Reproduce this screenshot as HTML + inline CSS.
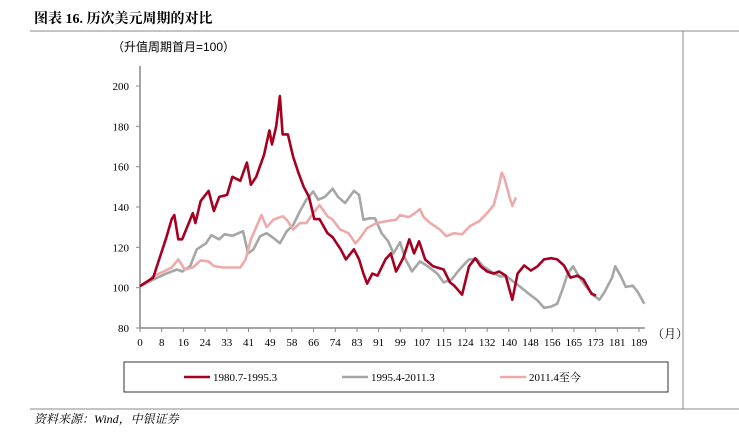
<!DOCTYPE html>
<html><head><meta charset="utf-8"><style>
body{margin:0;width:739px;height:429px;background:#fff;overflow:hidden;font-family:"Liberation Serif","Noto Serif CJK SC",serif;}
</style></head><body>
<svg width="739" height="429" xmlns="http://www.w3.org/2000/svg">
<text x="34" y="23" font-size="14" font-weight="bold" fill="#000" font-family="Liberation Serif,Noto Serif CJK SC,serif">图表 16. 历次美元周期的对比</text>
<line x1="30" y1="31" x2="739" y2="31" stroke="#888" stroke-width="1"/>
<line x1="683" y1="31" x2="683" y2="409" stroke="#888" stroke-width="1"/>
<line x1="30" y1="409" x2="739" y2="409" stroke="#888" stroke-width="1"/>
<text x="112" y="51" font-size="12" font-family="Liberation Sans,Noto Sans CJK SC,sans-serif">（升值周期首月=100）</text>
<text x="652" y="338" font-size="12">（月）</text>
<g id="axes"></g>
<g id="series"></g>
<rect x="124" y="362" width="544" height="30" fill="none" stroke="#333" stroke-width="1"/>
<g id="legend"></g>
<text x="34" y="423" font-size="12" font-style="italic">资料来源：Wind，中银证券</text>
</svg>
<script>
const xTickLabels=[0,8,16,24,33,41,49,58,66,74,83,91,99,107,115,124,132,140,148,156,165,173,181,189];
const yTicks=[80,100,120,140,160,180,200];
const seriesNames=["1980.7-1995.3","1995.4-2011.3","2011.4至今"];
const redM=[0,5,7,10,12,13,14.5,16,20,21,23,26,28,30,33,35,38,40.5,42,44,47,49,50,51.6,53,54,56,58,60,62,64,66,68,71,73,76,78,81,83,84.6,86,88,90,93,95,97,99.7,102,103.8,105.7,108,111,115,117.4,119,122,124.6,127,129,131.5,134,136,138.5,141,143,145.5,148,150.6,153,155.7,158,160.6,163,165.8,168,171,172.7];
const redV=[100.8,105,113,125,134,136,124,124,137,132,143,148,138,145,146,155,153,162,151,155,166,178,171,180,195,176,176,165,157,150,145,134,134,127,125,119,114,119,114,107,102,107,106,114,117,108,114.7,124,117,123,114,110.6,109,102.6,101,96.5,110.6,114.6,110.6,108,107,108,106,94,107,111,108.5,110.6,114,114.6,114,111,105,106,104,97,96];
const grayM=[0,5,10,14,16,19,21.5,25,27,30,32,35,39,41,43,45.5,48,50.5,53,55.6,58,60.6,63,65.6,67.5,70,73,75,77.7,81,83,84.6,87,89,91.5,94,96,98.5,100.4,103,106,109,112.6,115,118,121,124.6,127.7,130,133,136.3,138.9,141.4,144,147,150.3,153,155.7,158,160,162,164,166.5,169,172,174,176,178.8,180,182,184,186.6,188.5,191];
const grayV=[100.8,104,107,109,108,110.7,119,122,126,124,126.5,125.7,128,117,119,125.5,127,124.7,122,128,131,138,143.6,147.7,143.6,145,149,145,142,148,146,133.7,134.4,134.4,127,123,117,122.6,114.5,108,113,110.6,107,102.6,104,109,114,114,110.6,108,105.6,105.6,103,100.5,97.2,94,90,90.6,92,99,107,110.6,105,100.4,96,94,98,105,110.6,106,100.4,101,98,92];
const pinkM=[0,2.5,5,9,12,14.5,17,20,23,26,28,31.5,35,38,40,42,44,46,48,50.5,54,55.6,58,60.6,63,65.6,68,71,73,75.8,79,81.6,83,86,89.6,93.4,97,98.5,102,104.8,106,107.4,110,113.6,116,118.9,122,125,128.5,131.5,134,136,137,138,140,141,142.4];
const pinkV=[100.8,102.4,105.7,108,110,114,109,110,113.5,113,110.7,110,110,110,114,124,130,136,130,133.7,135.4,133.7,128.8,132,132,137,141,135.4,133.7,128.8,127,122,124,129.6,132,133,133.7,136,135,137.6,139,135,132,128.8,125.5,127,126.4,130.6,133,137,141,151,157,154.6,144.7,140.6,144.7];
const colors=["#a50021","#a6a6a6","#eeaaaa"];
const NS="http://www.w3.org/2000/svg";
const x0=140,x1=639,mMax=189,yBase=328,yTop=86;
const xs=m=>x0+m*(x1-x0)/mMax;
const ys=v=>yBase-(v-80)*(yBase-yTop)/120;
function mk(t,a,p){const e=document.createElementNS(NS,t);for(const k in a)e.setAttribute(k,a[k]);p.appendChild(e);return e;}
const ax=document.getElementById('axes');
let l=mk('line',{x1:x0,y1:yBase,x2:x0,y2:yTop-20,stroke:'#888','stroke-width':1.5},ax);


l=mk('line',{x1:x0,y1:yBase,x2:645,y2:yBase,stroke:'#888','stroke-width':1.5},ax);


yTicks.forEach(v=>{
 const tk=mk('line',{x1:x0-4,y1:ys(v),x2:x0,y2:ys(v),stroke:'#888'},ax);
 
 
 const t=mk('text',{x:x0-11,y:ys(v)+4,'font-size':11,'text-anchor':'end'},ax);t.textContent=v;
 
 
});
xTickLabels.forEach((lab,i)=>{
 const xx=x0+i*(x1-x0)/(xTickLabels.length-1);
 const tk=mk('line',{x1:xx,y1:yBase,x2:xx,y2:yBase+4,stroke:'#888'},ax);
 
 
 const t=mk('text',{x:xx,y:yBase+18,'font-size':11,'text-anchor':'middle'},ax);t.textContent=lab;
 
 
});
const sg=document.getElementById('series');
const data=[[grayM,grayV],[pinkM,pinkV],[redM,redV]];
const idx=[1,2,0];
data.forEach((d,j)=>{
 const pts=d[0].map((m,i)=>xs(m).toFixed(1)+','+ys(d[1][i]).toFixed(1)).join(' ');
 const p=mk('polyline',{points:pts,fill:'none',stroke:colors[idx[j]],'stroke-width':2.6,'stroke-linejoin':'round'},sg);
 
 
});
const lg=document.getElementById('legend');
const lx=[184,342,500];
seriesNames.forEach((n,i)=>{
 const ln=mk('line',{x1:lx[i],y1:377,x2:lx[i]+26,y2:377,stroke:colors[i],'stroke-width':2.6},lg);
 
 
 const t=mk('text',{x:lx[i]+29,y:381,'font-size':11},lg);t.textContent=n;
 
 
});
</script>
</body></html>
